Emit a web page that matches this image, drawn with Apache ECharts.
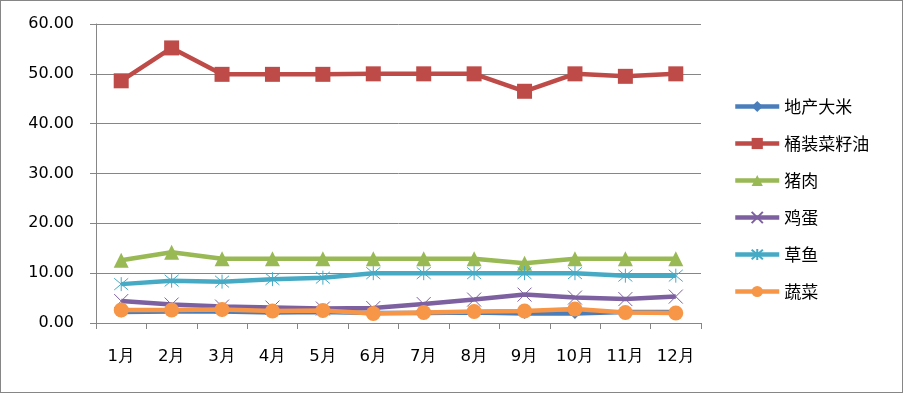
<!DOCTYPE html>
<html><head><meta charset="utf-8">
<script src="https://cdn.jsdelivr.net/npm/echarts@6/dist/echarts.min.js"></script>
<style>html,body{margin:0;padding:0;background:#fff}#c{width:901px;height:391px;border:1px solid #868686}</style>
</head><body><div id="c"></div>
<script>
const categories = ['1月','2月','3月','4月','5月','6月','7月','8月','9月','10月','11月','12月'];
const rice = [2.2,2.3,2.3,2.1,2.2,2.0,2.0,2.1,1.9,1.9,2.2,2.2];
const oil = [48.6,55.2,49.9,49.9,49.9,50.0,50.0,50.0,46.5,50.0,49.5,50.0];
const pork = [12.6,14.2,12.9,12.9,12.9,12.9,12.9,12.9,12.0,12.9,12.9,12.9];
const egg = [4.4,3.7,3.3,3.1,2.9,3.0,3.8,4.7,5.7,5.1,4.8,5.3];
const fish = [7.8,8.5,8.3,8.8,9.1,10.0,10.0,10.0,10.0,10.0,9.5,9.5];
const veg = [2.6,2.6,2.7,2.4,2.5,1.9,2.1,2.3,2.4,2.8,2.1,2.0];
const yTicks = {min:0, max:60, interval:10};

const xPath = 'path://M0,0L10,10M10,0L0,10';
const starPath = 'path://M0,0L10,10M10,0L0,10M5,-1L5,11';
function s(name, data, color, symbol, size, stroke){
  const o = {name, type:'line', data, symbol, symbolSize:size, showAllSymbol:true,
    lineStyle:{color, width:4.5}, itemStyle:{color}, z: 2};
  if(stroke){ o.itemStyle = {color:'none', borderColor:color, borderWidth:1}; }
  return o;
}
const chart = echarts.init(document.getElementById('c'));
chart.setOption({
  animation:false,
  grid:{left:95, right:201, top:23, bottom:69},
  legend:{orient:'vertical', left:727, top:92, itemGap:20, itemWidth:44, itemHeight:14,
    lineStyle:{width:4.5},
    textStyle:{fontFamily:'Noto Sans CJK SC', fontSize:17, color:'#000'}},
  xAxis:{type:'category', data:categories, boundaryGap:true,
    axisLine:{lineStyle:{color:'#868686'}}, axisTick:{show:true, length:6, lineStyle:{color:'#868686'}},
    axisLabel:{fontFamily:'DejaVu Sans', fontSize:16.5, color:'#000', margin:25}},
  yAxis:{type:'value', min:yTicks.min, max:yTicks.max, interval:yTicks.interval,
    axisLine:{show:true, lineStyle:{color:'#868686'}}, axisTick:{show:true, length:6, lineStyle:{color:'#868686'}},
    splitLine:{lineStyle:{color:'#868686'}},
    axisLabel:{fontFamily:'DejaVu Sans', fontSize:16, color:'#000', margin:22, formatter:v=>v.toFixed(2)}},
  series:[
    s('地产大米', rice, '#4A7EBB', 'diamond', 11),
    s('桶装菜籽油', oil, '#BE4B48', 'rect', 15),
    s('猪肉', pork, '#98B954', 'triangle', 15),
    s('鸡蛋', egg, '#7D60A0', xPath, 14, true),
    s('草鱼', fish, '#46AAC5', starPath, 14, true),
    s('蔬菜', veg, '#F79646', 'circle', 15)
  ]
});
</script></body></html>
